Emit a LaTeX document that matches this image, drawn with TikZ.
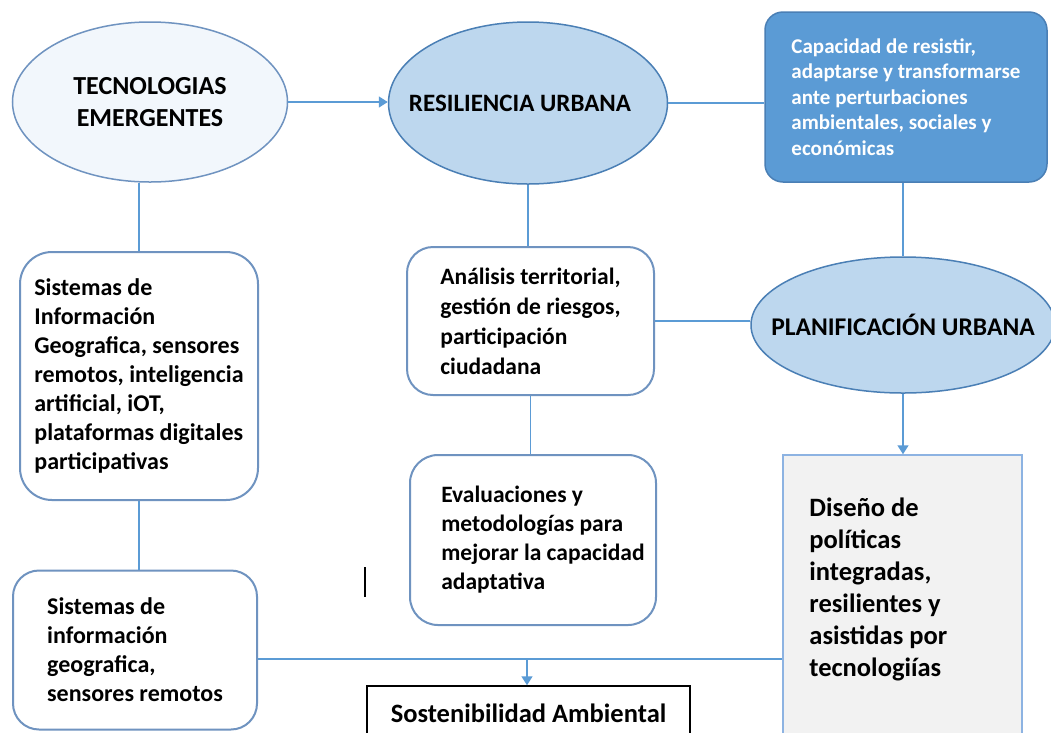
\documentclass[tikz,border=0pt]{standalone}
\usepackage{fontspec}
\setmainfont{Carlito}
\usetikzlibrary{shapes.geometric,arrows.meta}
\definecolor{lineblue}{HTML}{5B9BD5}
\definecolor{edgeblue}{HTML}{6F93C0}
\definecolor{paleblue}{HTML}{F2F7FC}
\definecolor{lightblue}{HTML}{BDD7EE}
\definecolor{midblue}{HTML}{5B9BD5}
\definecolor{darkedge}{HTML}{4A7FB5}
\definecolor{greybox}{HTML}{F2F2F2}
\definecolor{disedge}{HTML}{8DB3E2}

\begin{document}
\begin{tikzpicture}[x=1pt,y=-1pt,
    every node/.style={font=\bfseries\fontsize{24}{29}\selectfont},
    oval/.style={ellipse,draw=edgeblue,line width=1.5pt,inner sep=0pt,align=center},
    rbox/.style={draw=edgeblue,line width=2pt,fill=white,align=left,inner sep=0pt},
    link/.style={draw=lineblue,line width=1.5pt},
    arr/.style={link,-{Triangle[length=9pt,width=11pt]}}]
  \clip (0,0) rectangle (1051,732);
  \fill[white] (0,0) rectangle (1051,732);

  % top row
  \node[oval,fill=paleblue,minimum width=275,minimum height=160,
    font=\bfseries\fontsize{26}{32}\selectfont] (te) at (150,102)
    {\makebox[0pt]{TECNOLOGIAS}\\\makebox[0pt]{EMERGENTES}};
  \node[oval,fill=lightblue,draw=darkedge,minimum width=279,minimum height=162,
    font=\bfseries\fontsize{25}{30}\selectfont] (ru) at (528,103)
    {\makebox[0pt]{\kern-16pt RESILIENCIA URBANA}};
  \node[draw=darkedge,fill=midblue,line width=1.5pt,rounded corners=18,
    minimum width=282,minimum height=170,inner sep=0pt,align=left,text=white,
    font=\bfseries\fontsize{21}{25.5}\selectfont] (cap) at (906,97)
    {Capacidad de resistir,\\adaptarse y transformarse\\ante perturbaciones\\ambientales, sociales y\\económicas};

  % middle
  \node[rbox,rounded corners=32,minimum width=238,minimum height=248] (sig) at (139,376)
    {Sistemas de\\Información\\Geografica, sensores\\remotos, inteligencia\\artificial, iOT,\\plataformas digitales\\participativas};
  \node[rbox,rounded corners=26,minimum width=247,minimum height=148,
    font=\bfseries\fontsize{23.5}{30}\selectfont] (ana) at (530.5,321)
    {Análisis territorial,\\gestión de riesgos,\\participación\\ciudadana};
  \node[oval,fill=lightblue,draw=darkedge,minimum width=304,minimum height=136,
    font=\bfseries\fontsize{25.5}{30}\selectfont] (pu) at (903,325)
    {\makebox[0pt]{PLANIFICACIÓN URBANA}};
  \node[rbox,rounded corners=28,minimum width=246,minimum height=170,
    font=\bfseries\fontsize{23.5}{29}\selectfont] (eva) at (533,540)
    {\kern20pt Evaluaciones y\\\kern20pt metodologías para\\\kern20pt mejorar la capacidad\\\kern20pt adaptativa};

  % bottom
  \node[rbox,rounded corners=26,minimum width=244,minimum height=159] (sig2) at (135,650)
    {Sistemas de\\información\\geografica,\\sensores remotos};
  \node[draw=disedge,fill=greybox,line width=1.5pt,minimum width=239,minimum height=345,
    inner sep=0pt] (dis) at (902.5,627.5) {};
  \node[anchor=north west,align=left,inner sep=0pt,
    font=\bfseries\fontsize{26.5}{32}\selectfont] (distxt) at ([shift={(27,43)}]dis.north west)
    {Diseño de\\políticas\\integradas,\\resilientes y\\asistidas por\\tecnologiías};
  \node[draw=black,fill=white,line width=1.5pt,minimum width=323,minimum height=54,
    inner sep=0pt,font=\bfseries\fontsize{26.5}{30}\selectfont] (sos) at (528.5,713)
    {Sostenibilidad Ambiental};

  % connectors
  \draw[arr] (te.east) -- (te.east -| ru.west);
  \draw[link] (ru.east) -- (ru.east -| cap.west);
  \draw[link] (pu.north |- cap.south) -- (pu.north);
  \draw[arr] (pu.south) -- (pu.south |- dis.north);
  \draw[link] (sig.north |- te.south) -- (sig.north);
  \draw[link] (ru.south) -- (ru.south |- ana.north);
  \draw[link] (ana.east) -- (ana.east -| pu.west);
  \draw[link] (ana.south) -- (ana.south |- eva.north);
  \draw[link] (sig.south) -- (sig.south |- sig2.north);
  \coordinate (join) at (527,659);
  \draw[link] (sig2.east |- join) -- (dis.west |- join);
  \draw[arr] (join) -- (join |- sos.north);

  % stray mark
  \draw[black,line width=1.2pt] (365,567) -- (365,597);
\end{tikzpicture}
\end{document}
